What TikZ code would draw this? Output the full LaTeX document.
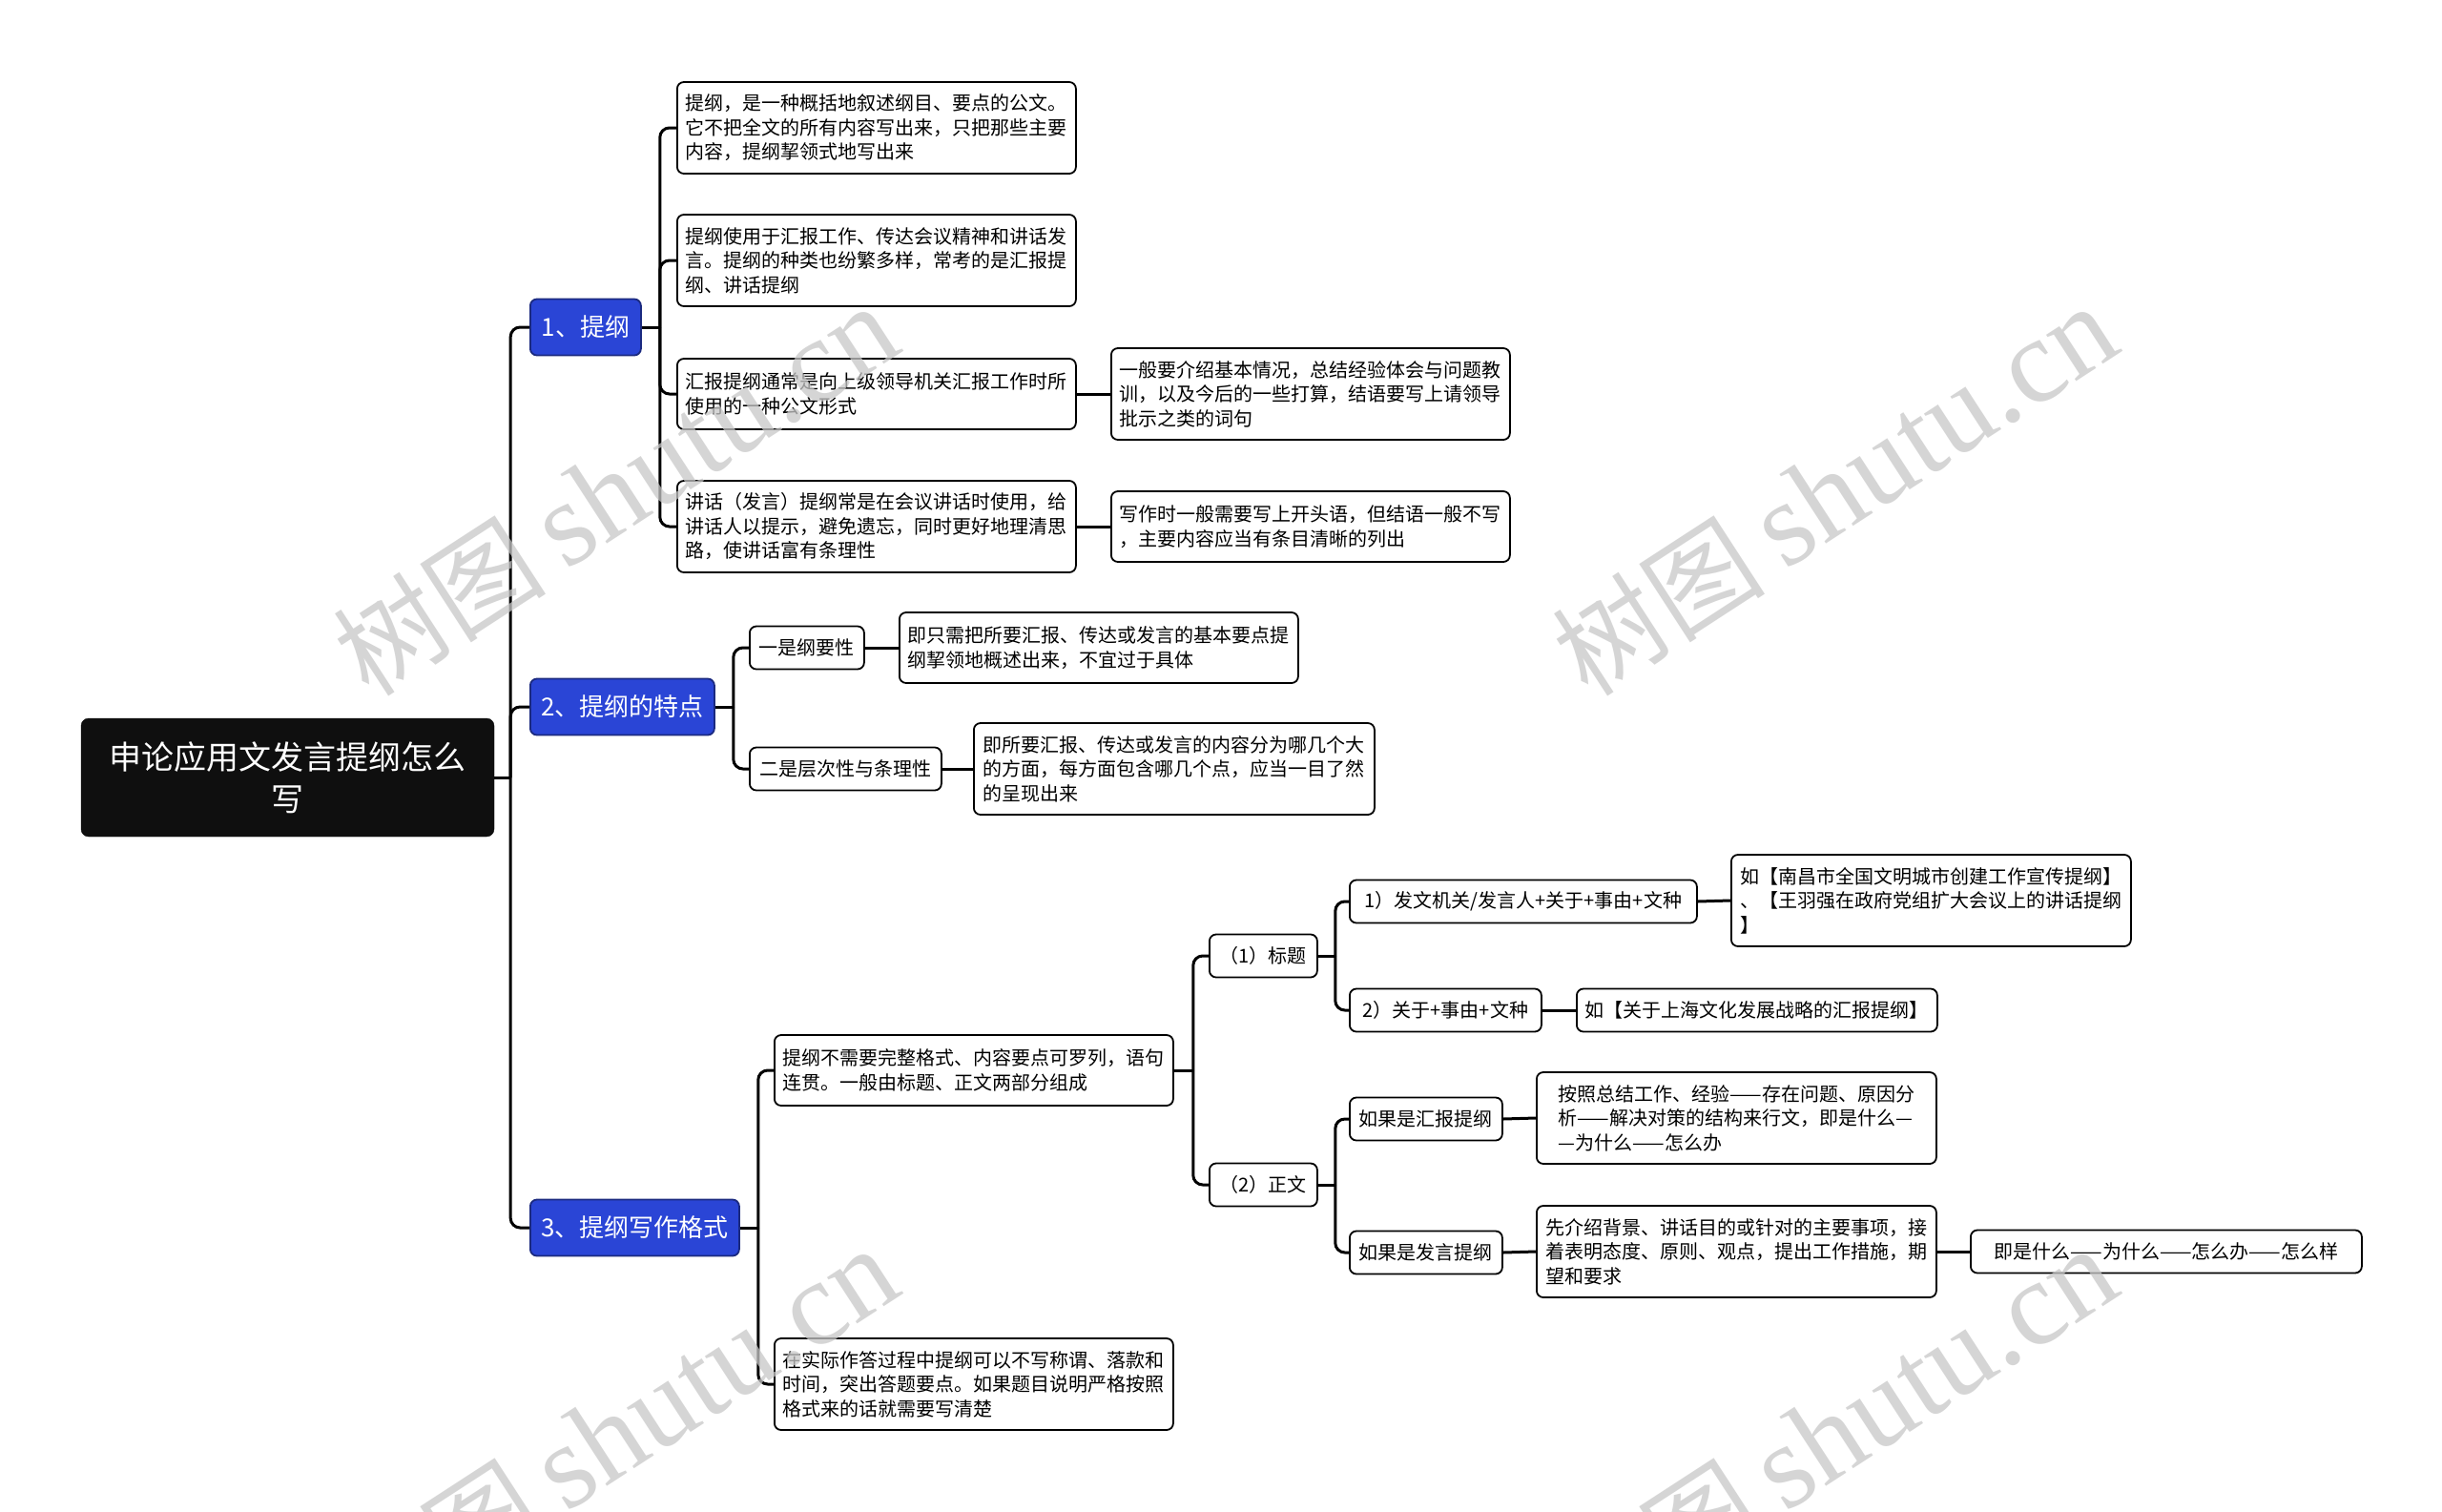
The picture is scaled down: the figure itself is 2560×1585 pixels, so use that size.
\documentclass[tikz,border=0pt]{standalone}
\usepackage{fontspec}
\setmainfont{Noto Sans CJK SC}
\newfontfamily\wmlatin{Liberation Serif}
\newfontfamily\wmcjk{Noto Sans CJK SC}
\definecolor{mblue}{HTML}{2A45D6}
\definecolor{mblueline}{HTML}{1B2A80}
\definecolor{rootblack}{HTML}{0F0F0F}
\definecolor{wmgray}{HTML}{C8C8C8}
\newcommand{\wmtext}{{\wmcjk\fontsize{112}{112}\selectfont 树图}\hspace{22pt}{\wmlatin\fontsize{126}{126}\selectfont shutu.cn}}
\begin{document}
\begin{tikzpicture}[x=1pt,y=-1pt,
  box/.style={draw=black, line width=1.8pt, rounded corners=7pt, fill=white, align=left, anchor=west,
    inner xsep=9pt, inner ysep=0pt, font=\fontsize{20}{25.5}\selectfont, text=black},
  hone/.style={minimum height=45pt},
  htwo/.style={minimum height=74pt},
  hthree/.style={minimum height=96pt},
  topic/.style={draw=mblueline, fill=mblue, line width=1.8pt, rounded corners=7pt, text=white,
    font=\fontsize{26}{30}\selectfont, anchor=west, minimum height=59pt, inner xsep=11pt, inner ysep=0pt},
  rootbox/.style={fill=rootblack, draw=rootblack, rounded corners=8pt, text=white,
    font=\fontsize{34}{44}\selectfont, align=center, minimum width=433pt, minimum height=124pt},
  conn/.style={line width=3pt, rounded corners=10pt, draw=black},
  wm/.style={text=wmgray, opacity=0.75, rotate=33, inner sep=0pt}
]
\useasboundingbox[fill=white] (0,0) rectangle (2560,1585);

% root and topics
\node[rootbox] (root) at (301.5,815) {申论应用文发言提纲怎么\\写};
\node[topic, minimum width=116pt] (b1) at (555,343) {1、提纲};
\node[topic, minimum width=193pt] (b2) at (555,741) {2、提纲的特点};
\node[topic, minimum width=219pt] (b3) at (555,1287) {3、提纲写作格式};

% branch 1
\node[box, hthree, minimum width=418pt] (l1) at (709,134) {提纲，是一种概括地叙述纲目、要点的公文。\\它不把全文的所有内容写出来，只把那些主要\\内容，提纲挈领式地写出来};
\node[box, hthree, minimum width=418pt] (l2) at (709,273) {提纲使用于汇报工作、传达会议精神和讲话发\\言。提纲的种类也纷繁多样，常考的是汇报提\\纲、讲话提纲};
\node[box, htwo, minimum width=418pt] (l3) at (709,413) {汇报提纲通常是向上级领导机关汇报工作时所\\使用的一种公文形式};
\node[box, hthree, minimum width=418pt] (l3c) at (1164,413) {一般要介绍基本情况，总结经验体会与问题教\\训，以及今后的一些打算，结语要写上请领导\\批示之类的词句};
\node[box, hthree, minimum width=418pt] (l4) at (709,552) {讲话（发言）提纲常是在会议讲话时使用，给\\讲话人以提示，避免遗忘，同时更好地理清思\\路，使讲话富有条理性};
\node[box, htwo, minimum width=418pt] (l4c) at (1164,552) {写作时一般需要写上开头语，但结语一般不写\\，主要内容应当有条目清晰的列出};

% branch 2
\node[box, hone, minimum width=120pt] (f1) at (785,679) {一是纲要性};
\node[box, htwo, minimum width=418pt] (f1c) at (942,679) {即只需把所要汇报、传达或发言的基本要点提\\纲挈领地概述出来，不宜过于具体};
\node[box, hone, minimum width=201pt] (f2) at (785,806) {二是层次性与条理性};
\node[box, hthree, minimum width=420pt] (f2c) at (1020,806) {即所要汇报、传达或发言的内容分为哪几个大\\的方面，每方面包含哪几个点，应当一目了然\\的呈现出来};

% branch 3
\node[box, htwo, minimum width=418pt] (g1) at (811,1122) {提纲不需要完整格式、内容要点可罗列，语句\\连贯。一般由标题、正文两部分组成};
\node[box, hthree, minimum width=418pt] (g2) at (811,1451) {在实际作答过程中提纲可以不写称谓、落款和\\时间，突出答题要点。如果题目说明严格按照\\格式来的话就需要写清楚};
\node[box, hone, minimum width=113pt] (t1) at (1267,1002) {（1）标题};
\node[box, hone, minimum width=113pt] (t2) at (1267,1242) {（2）正文};
\node[box, hone, minimum width=364pt] (t1a) at (1414,945) {1）发文机关/发言人+关于+事由+文种};
\node[box, hthree, minimum width=419pt] (t1ac) at (1814,944) {如【南昌市全国文明城市创建工作宣传提纲】\\、【王羽强在政府党组扩大会议上的讲话提纲\\】};
\node[box, hone, minimum width=201pt] (t1b) at (1414,1059) {2）关于+事由+文种};
\node[box, hone, minimum width=377pt] (t1bc) at (1652,1059) {如【关于上海文化发展战略的汇报提纲】};
\node[box, hone, minimum width=160pt] (t2a) at (1414,1173) {如果是汇报提纲};
\node[box, hthree, minimum width=419pt] (t2ac) at (1610,1172) {按照总结工作、经验——存在问题、原因分\\析——解决对策的结构来行文，即是什么—\\—为什么——怎么办};
\node[box, hone, minimum width=160pt] (t2b) at (1414,1313) {如果是发言提纲};
\node[box, hthree, minimum width=419pt] (t2bc) at (1610,1312) {先介绍背景、讲话目的或针对的主要事项，接\\着表明态度、原则、观点，提出工作措施，期\\望和要求};
\node[box, hone, minimum width=410pt] (t2bd) at (2065,1312) {即是什么——为什么——怎么办——怎么样};

% junctions
\coordinate (j0) at ([xshift=17pt]root.east);
\coordinate (j1) at ([xshift=19pt]b1.east);
\coordinate (j2) at ([xshift=19pt]b2.east);
\coordinate (j3) at ([xshift=19pt]b3.east);
\coordinate (j4) at ([xshift=20pt]g1.east);
\coordinate (j5) at ([xshift=18pt]t1.east);
\coordinate (j6) at ([xshift=18pt]t2.east);

% connectors
\draw[conn] (root.east) -- (j0);
\foreach \c in {b1,b2,b3} \draw[conn] (j0) |- (\c.west);
\draw[conn] (b1.east) -- (j1);
\foreach \c in {l1,l2,l3,l4} \draw[conn] (j1) |- (\c.west);
\draw[conn] (l3.east) -- (l3c.west);
\draw[conn] (l4.east) -- (l4c.west);
\draw[conn] (b2.east) -- (j2);
\foreach \c in {f1,f2} \draw[conn] (j2) |- (\c.west);
\draw[conn] (f1.east) -- (f1c.west);
\draw[conn] (f2.east) -- (f2c.west);
\draw[conn] (b3.east) -- (j3);
\foreach \c in {g1,g2} \draw[conn] (j3) |- (\c.west);
\draw[conn] (g1.east) -- (j4);
\foreach \c in {t1,t2} \draw[conn] (j4) |- (\c.west);
\draw[conn] (t1.east) -- (j5);
\foreach \c in {t1a,t1b} \draw[conn] (j5) |- (\c.west);
\draw[conn] (t1a.east) -- (t1ac.west);
\draw[conn] (t1b.east) -- (t1bc.west);
\draw[conn] (t2.east) -- (j6);
\foreach \c in {t2a,t2b} \draw[conn] (j6) |- (\c.west);
\draw[conn] (t2a.east) -- (t2ac.west);
\draw[conn] (t2b.east) -- (t2bc.west);
\draw[conn] (t2bc.east) -- (t2bd.west);

% watermarks
\node[wm] (wm1) at (645,514) {\wmtext};
\node[wm] (wm2) at (1923,514) {\wmtext};
\node[wm] (wm3) at (645,1502) {\wmtext};
\node[wm] (wm4) at (1923,1502) {\wmtext};
\end{tikzpicture}
\end{document}
